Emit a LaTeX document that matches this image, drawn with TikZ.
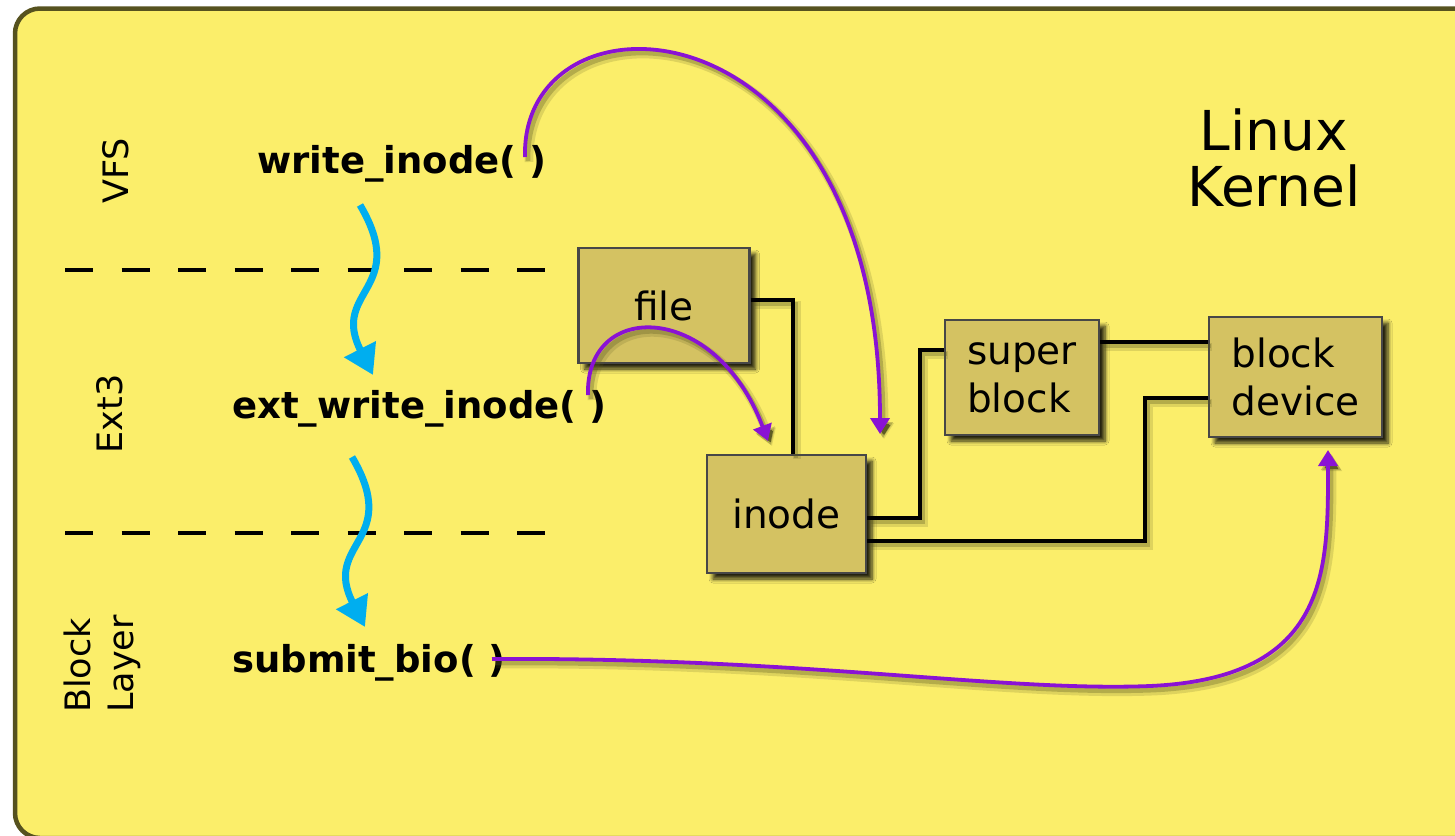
\documentclass[tikz,border=0pt]{standalone}
\usepackage{fontspec}
\setmainfont{DejaVu Sans}
\usetikzlibrary{arrows.meta,shadows.blur,calc}

\definecolor{bgyellow}{HTML}{FBEE6A}
\definecolor{frameolive}{HTML}{56521F}
\definecolor{boxfill}{HTML}{D4C262}
\definecolor{boxline}{HTML}{474747}
\definecolor{callpurple}{HTML}{8A12D4}
\definecolor{flowblue}{HTML}{00AEEF}
\definecolor{shadecol}{HTML}{5E5C22}

\tikzset{
  structbox/.style={draw=boxline, line width=2.2pt, fill=boxfill, inner sep=0pt,
    align=left, font=\fontsize{39}{48}\selectfont,
    blur shadow={shadow xshift=6pt, shadow yshift=-6pt,
      shadow blur radius=4pt, shadow blur steps=6, shadow opacity=85}},
  fnlabel/.style={inner sep=0pt, font=\fontsize{37}{44}\bfseries\selectfont},
  layerlabel/.style={inner sep=0pt, rotate=90, align=left,
    font=\fontsize{35}{43}\selectfont},
  softshadow/.style={
    preaction={draw=shadecol, draw opacity=.18, line width=#1+5pt,
      transform canvas={shift={(4pt,-5pt)}}},
    preaction={draw=shadecol, draw opacity=.32, line width=#1+1pt,
      transform canvas={shift={(3pt,-4pt)}}}},
  wire/.style={draw=black, line width=3.6pt, softshadow=3.6pt},
  callarrow/.style={draw=callpurple, line width=3.8pt,
    -{Triangle[length=16pt,width=19pt]}, softshadow=3.8pt},
  flowarrow/.style={draw=flowblue, line width=7pt,
    -{Triangle[length=29pt,width=34pt]}},
  layerrule/.style={draw=black, line width=3.6pt, dash pattern=on 28pt off 28.5pt}
}

\begin{document}
\begin{tikzpicture}[x=1pt, y=-1pt]
  \useasboundingbox (0,0) rectangle (1455,835);
  \clip (0,0) rectangle (1455,835);

  % panel
  \draw[fill=bgyellow, draw=frameolive, line width=4.5pt, rounded corners=25pt]
    (15,8.5) rectangle (1530,838);

  % layer names
  \node[layerlabel] (vfs) at (116,171) {VFS};
  \node[layerlabel] (ext) at (110,414) {Ext3};
  \node[layerlabel] (blk) at (102,664) {Block\\Layer};

  % layer boundaries
  \draw[layerrule] (65,270) -- (548,270);
  \draw[layerrule] (65,533) -- (548,533);

  % title
  \node[align=center, inner sep=0pt, font=\fontsize{55}{56}\selectfont]
    (title) at (1274,158) {Linux\\Kernel};

  % call chain
  \node[fnlabel, anchor=base west] (wi)  at (257,173) {write\_inode( )};
  \node[fnlabel, anchor=base west] (ewi) at (232,418) {ext\_write\_inode( )};
  \node[fnlabel, anchor=base west] (sb)  at (232,672) {submit\_bio( )};

  % kernel objects
  \node[structbox, minimum width=171pt, minimum height=115pt] (file)  at (664,305.5) {file};
  \node[structbox, minimum width=159pt, minimum height=118pt] (inode) at (786.5,514) {inode};
  \node[structbox, minimum width=154pt, minimum height=115pt] (super) at (1022,377.5) {super\\block};
  \node[structbox, minimum width=173pt, minimum height=120pt] (bdev)  at (1295.5,377) {block\\device};

  % object links
  \draw[wire] (file.east |- 0,300) -| ([xshift=6.5pt]inode.north);
  \draw[wire] (inode.east |- 0,518) -- (920,518) |- (super.west |- 0,350);
  \draw[wire] (super.east |- 0,342) -- (bdev.west |- 0,342);
  \draw[wire] (inode.east |- 0,541) -- (1145,541) |- (bdev.west |- 0,398);

  % downward flow between layers
  \coordinate (f1a) at (360,205);
  \coordinate (f1b) at (373,375);
  \coordinate (f2a) at (352,457);
  \coordinate (f2b) at (365,627);
  \draw[flowarrow] (f1a) .. controls (410,290) and (330,290) .. (f1b);
  \draw[flowarrow] (f2a) .. controls (402,542) and (322,542) .. (f2b);

  % what each call touches
  \coordinate (wiStart)  at (525,157);
  \coordinate (wiEnd)    at (880,434);
  \coordinate (ewiStart) at (588,395);
  \coordinate (ewiEnd)   at (768,441);
  \coordinate (sbStart)  at (492,659);
  \coordinate (sbEnd)    at (1328,450);
  \draw[callarrow] (wiStart) .. controls (520,-20) and (880,-10) .. (wiEnd);
  \draw[callarrow] (ewiStart) .. controls (585,300) and (715,300) .. (ewiEnd);
  \draw[callarrow] (sbStart) .. controls (800,657) and (1000,692) .. (1150,686)
    .. controls (1330,678) and (1328,570) .. (sbEnd);
\end{tikzpicture}
\end{document}
